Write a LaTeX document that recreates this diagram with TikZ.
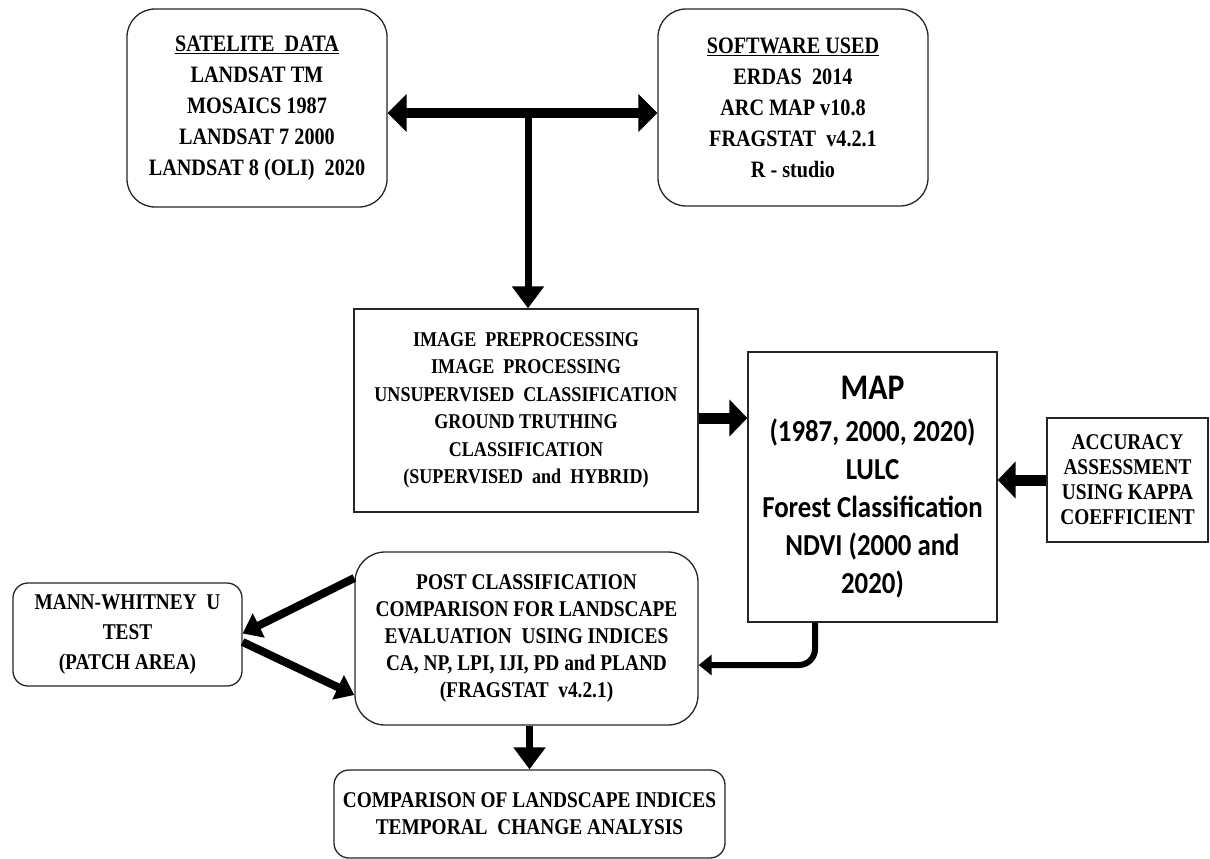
\documentclass[tikz,border=0pt]{standalone}
\usepackage{fontspec}
\setmainfont{Liberation Serif}[FakeStretch=0.86]
\newfontfamily\calfont{Carlito}[FakeStretch=0.88]
\usetikzlibrary{arrows.meta,calc}
\begin{document}
\begin{tikzpicture}[x=1pt,y=-1pt,
  box/.style={draw=black!85,line width=1.3pt,fill=white,inner sep=0pt,align=center},
  rbox/.style={box,rounded corners=#1},
  tnr/.style={font=\bfseries\fontsize{23.5}{31}\selectfont},
  tnrs/.style={font=\bfseries\fontsize{22.5}{#1}\selectfont},
  thick10/.style={line width=10pt,-{Triangle[width=37pt,length=19pt]}},
  thick11/.style={line width=11pt,-{Triangle[width=36pt,length=18pt]}},
  thin7/.style={line width=7pt,-{Triangle[width=31pt,length=22pt]}},
  slant/.style={line width=8pt,-{Triangle[width=26pt,length=18pt]}},
  small6/.style={line width=6pt,-{Triangle[width=20pt,length=13pt]}}
]
\useasboundingbox (0,0) rectangle (1210,859);

\node[rbox=28pt,tnr,minimum width=260pt,minimum height=198pt] (sat) at (257,108)
 {\underline{SATELITE\ \ DATA}\\LANDSAT TM\\MOSAICS 1987\\LANDSAT 7 2000\\LANDSAT 8 (OLI)\ \ 2020};
\node[rbox=28pt,tnr,minimum width=270pt,minimum height=197pt] (sw) at (793,107.5)
 {\underline{SOFTWARE USED}\\ERDAS\ \ 2014\\ARC MAP v10.8\\FRAGSTAT\ \ v4.2.1\\R - studio};
\node[box,font=\bfseries\fontsize{21}{27.5}\selectfont,minimum width=344pt,minimum height=203pt] (img) at (526,410.5)
 {IMAGE\ \ PREPROCESSING\\IMAGE\ \ PROCESSING\\UNSUPERVISED\ \ CLASSIFICATION\\GROUND TRUTHING\\CLASSIFICATION\\(SUPERVISED\ \ and\ \ HYBRID)};
\node[box,font=\calfont\bfseries\fontsize{30.5}{38}\selectfont,minimum width=249pt,minimum height=270pt] (map) at (872.5,487)
 {{\fontsize{36}{38}\selectfont MAP}\\[4pt](1987, 2000, 2020)\\LULC\\Forest Classification\\NDVI (2000 and\\2020)};
\node[box,tnrs=25,minimum width=161pt,minimum height=124pt] (acc) at (1127.5,480)
 {ACCURACY\\ASSESSMENT\\USING KAPPA\\COEFFICIENT};
\node[rbox=15pt,tnrs=30,minimum width=229pt,minimum height=103pt] (mann) at (127.5,634.5)
 {MANN-WHITNEY\ \ U\\TEST\\(PATCH AREA)};
\node[rbox=30pt,tnrs=27,minimum width=343pt,minimum height=173pt] (post) at (526.5,638.5)
 {POST CLASSIFICATION\\COMPARISON FOR LANDSCAPE\\EVALUATION\ \ USING INDICES\\CA, NP, LPI, IJI, PD and PLAND\\(FRAGSTAT\ \ v4.2.1)};
\node[rbox=15pt,tnrs=27,minimum width=391pt,minimum height=88pt] (comp) at (529.5,814)
 {COMPARISON OF LANDSCAPE INDICES\\TEMPORAL\ \ CHANGE ANALYSIS};

\coordinate (j) at (528,113);
\coordinate (k) at (700,418);
\draw[thick10,{Triangle[width=37pt,length=19pt]}-{Triangle[width=37pt,length=19pt]}] (sat.east |- j) -- (sw.west |- j);
\draw[thin7] ([yshift=5pt]j) -- (img.north -| j);
\draw[thick11] (img.east |- k) -- (map.west |- k);
\draw[thick11] (acc.west) -- (map.east |- acc.west);
\draw[small6,rounded corners=16pt] ([xshift=-57.5pt]map.south) |- ([yshift=-26.5pt]post.east);
\draw[slant] ([yshift=60.5pt]post.west) -- ([yshift=1pt]mann.east);
\draw[slant] ([yshift=-7.5pt]mann.east) -- ([yshift=-56.5pt]post.west);
\draw[thin7] (comp.north |- post.south) -- (comp.north);
\end{tikzpicture}
\end{document}
